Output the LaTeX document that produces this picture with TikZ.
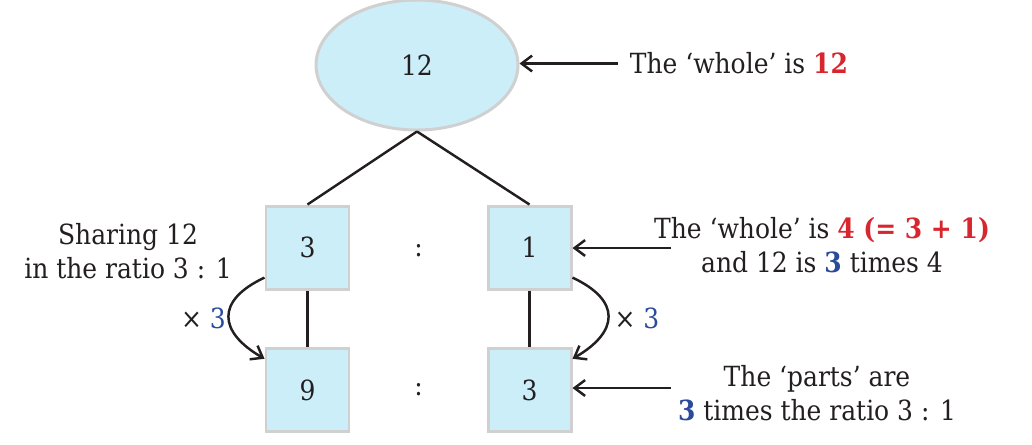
\documentclass[tikz,border=0pt]{standalone}
\usepackage{fontspec}
\setmainfont{DejaVu Serif Condensed}
\usepackage{tikz}
\usetikzlibrary{arrows.meta,positioning,shapes.geometric}
\definecolor{boxfill}{HTML}{CCEEF9}
\definecolor{boxline}{HTML}{D0D0D0}
\definecolor{ink}{HTML}{231F20}
\definecolor{qred}{HTML}{D7262E}
\definecolor{qblue}{HTML}{2A4B9B}
\tikzset{>={Straight Barb[length=6pt,width=9pt]},thick,
  whole node/.style={ellipse,fill=boxfill,draw=boxline,line width=1.7pt,minimum width=4.04cm,minimum height=2.6cm,inner sep=0pt},
  part node/.style={rectangle,fill=boxfill,draw=boxline,line width=1.7pt,minimum size=1.66cm,inner sep=0pt},
  note/.style={align=center,inner sep=2pt,text=ink},
  link/.style={draw=ink,line width=1.4pt}}

\begin{document}
\begin{tikzpicture}[font=\fontsize{15.8}{19.5}\selectfont,text=ink]
    \useasboundingbox (0,0) rectangle (20.64,-8.88);
    \node[whole node] (whole) at (8.34,-1.3) {12};
    \node[part node, on grid] (b3) at (6.15,-4.95) {3};
    \node[part node, on grid] (b1) [right=4.44cm of b3] {1};
    \node[part node, on grid] (b9) [below=2.85cm of b3] {9};
    \node[part node, on grid] (b3b) [below=2.85cm of b1] {3};
    \node[on grid] (c1) [below right=0.06cm and 2.22cm of b3] {:};
    \node[on grid] (c2) [below right=0.0cm and 2.22cm of b9] {:};
    \node[on grid] (m1) [below left=1.425cm and 2.08cm of b3] {× \textcolor{qblue}{3}};
    \node[on grid] (m2) [below right=1.425cm and 2.15cm of b1] {× \textcolor{qblue}{3}};
    % notes
    \node[note, anchor=west] (n1) at (12.52,-1.27) {The `whole' is \textbf{\textcolor{qred}{12}}};
    \node[note] (n2) at (16.44,-4.9) {The `whole' is \textbf{\textcolor{qred}{4 (= 3 + 1)}}\\and 12 is \textbf{\textcolor{qblue}{3}} times 4};
    \node[note] (n3) at (16.34,-7.86) {The `parts' are\\\textbf{\textcolor{qblue}{3}} times the ratio 3 : 1};
    \node[note] (n4) at (2.56,-5.02) {Sharing 12\\in the ratio 3 : 1};
    \coordinate (a1) at (12.36,-1.27);
    \coordinate (a2) at (13.42,-4.96);
    \coordinate (a3) at (13.42,-7.76);
    % connectors
    \path[link] (whole.south) edge (b3.north);
    \path[link] (whole.south) edge (b1.north);
    \path[link] (b3) edge (b9);
    \path[link] (b1) edge (b3b);
    \path[link] (b3.215) edge [->, out=205, in=150, looseness=1.7] (b9.144);
    \path[link] (b1.-35) edge [->, out=-25, in=30, looseness=1.7] (b3b.36);
    \path[link] (a1) edge [->] (a1 -| whole.east);
    \path[link] (a2) edge [->] (a2 -| b1.east);
    \path[link] (a3) edge [->] (a3 -| b3b.east);
\end{tikzpicture}
\end{document}
